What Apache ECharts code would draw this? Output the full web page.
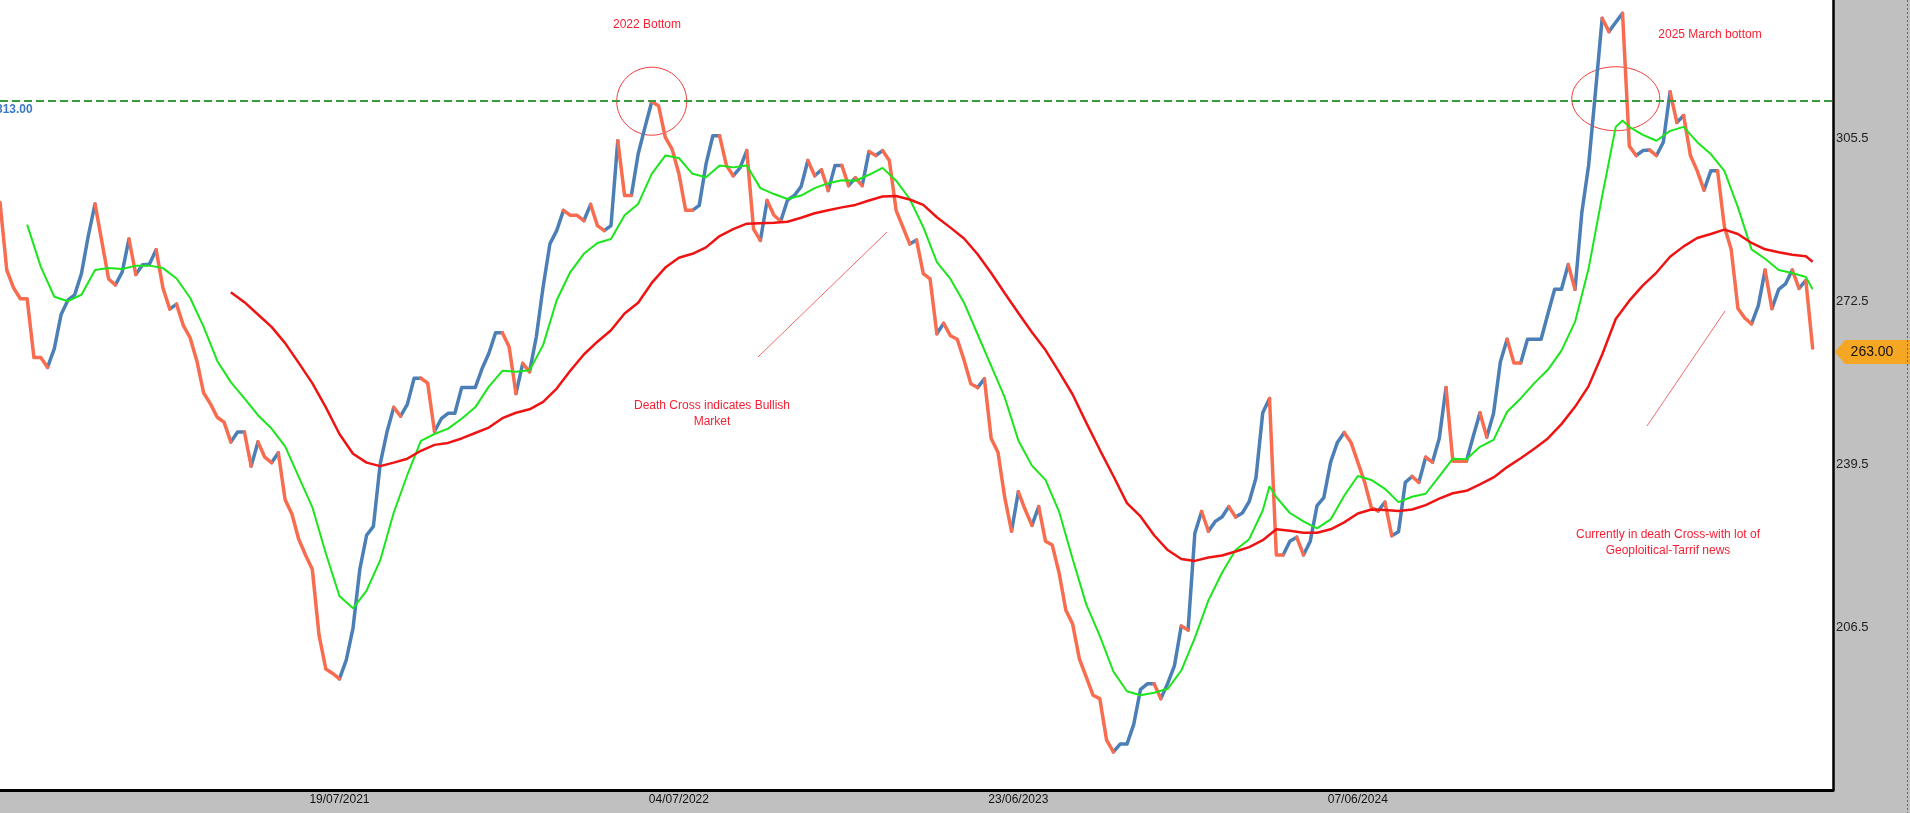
<!DOCTYPE html>
<html><head><meta charset="utf-8">
<script src="https://cdn.jsdelivr.net/npm/echarts@6/dist/echarts.min.js"></script>
<style>html,body{margin:0;padding:0;background:#c0c0c0;}#c{width:1910px;height:813px;}</style>
</head><body><div id="c"></div>
<script>
// weekly closing prices (index = week on the category axis)
const price = [
292.5,278.8,275.2,273.0,273.0,261.1,261.1,259.1,262.9,269.8,
272.7,273.8,278.1,285.7,292.2,284.6,277.0,275.8,278.4,285.1,
277.9,279.9,280.0,282.9,275.2,270.9,271.9,267.6,265.1,260.4,
253.9,251.7,249.0,248.0,244.0,246.0,246.0,239.1,244.0,240.9,
239.8,241.8,232.3,229.4,224.3,221.1,218.2,204.8,198.0,197.1,
196.0,199.8,206.3,218.2,225.1,226.9,239.5,246.0,251.0,249.2,
251.6,256.9,256.9,255.9,246.1,248.7,249.8,249.8,255.0,255.0,
255.0,258.8,261.9,266.1,266.1,263.2,253.8,259.9,258.2,265.3,
275.4,284.1,286.8,290.9,289.9,289.9,288.8,292.1,287.8,286.8,
287.8,305.0,293.9,293.9,302.3,307.7,312.9,312.1,305.7,303.3,
298.3,290.9,290.9,291.9,300.3,306.0,306.0,300.0,297.9,299.5,
303.0,287.1,284.8,292.9,289.9,288.7,293.0,293.9,295.7,301.0,
297.9,299.1,294.9,300.0,300.0,295.9,297.5,295.9,302.8,302.0,
303.0,301.0,290.9,287.5,284.1,284.9,278.1,277.0,265.9,268.0,
265.5,264.8,260.6,255.8,255.0,256.8,244.7,241.9,232.7,225.9,
233.9,230.3,227.1,230.9,223.9,223.1,217.5,209.9,207.1,200.0,
196.4,192.7,192.0,183.6,181.2,182.8,182.8,186.8,193.9,195.0,
195.0,192.0,195.1,198.7,206.7,205.9,225.5,229.9,225.9,227.9,
228.8,230.9,228.8,229.6,231.9,236.7,249.9,252.8,221.1,221.1,
223.9,224.7,221.1,223.9,231.1,232.7,239.9,243.9,245.9,243.9,
239.9,235.9,230.7,230.0,231.8,225.0,225.8,235.8,237.0,235.8,
240.9,239.9,244.7,255.0,240.1,240.1,240.1,245.1,249.9,245.0,
249.8,260.2,264.8,260.0,260.0,264.8,264.8,264.8,269.9,274.9,
274.9,279.9,274.9,290.4,300.0,314.7,329.8,327.1,329.0,330.8,
303.9,302.0,303.0,303.1,302.0,304.7,314.9,308.7,310.1,302.0,
298.9,295.0,298.9,298.9,287.6,283.0,271.0,269.1,267.9,271.6,
278.8,271.0,274.9,276.0,278.8,275.1,276.7,263.0
];
// short moving average (green), [week index, value]
const greenMA = [
[4,288],[6,279.5],[8,273.4],[10,272.5],[12,273.8],[14,278.8],[16,279.2],[18,279],[20,279.7],[22,279.7],
[24,279.2],[26,277.1],[28,273.2],[30,267.3],[32,260.4],[34,256.1],[36,252.8],[38,249.4],[40,246.7],[42,243.1],
[44,236.9],[46,230.8],[48,221.4],[50,212.8],[52,210.3],[54,213.9],[56,220],[58,229.7],[60,237.3],[62,244.2],
[64,245.6],[66,246.7],[68,248.7],[70,251],[72,255.2],[74,258.4],[76,258.2],[78,258.5],[80,263.6],[82,272.7],
[84,278.4],[86,282.1],[88,284.3],[90,285.1],[92,289.9],[94,292.2],[96,298.3],[98,302],[100,301.5],[102,298.3],
[104,297.6],[106,300],[108,299.6],[110,300],[112,295.4],[114,294.2],[116,293.2],[118,293.9],[120,295.4],[122,296.4],
[124,297],[126,296.9],[128,298.1],[130,299.5],[132,296.9],[134,293.2],[136,287.5],[138,280.4],[140,277],[142,272.2],
[144,265.8],[146,259.4],[148,253],[150,244.3],[152,239.2],[154,236.3],[156,229.9],[158,220.3],[160,211.1],[162,204.7],
[164,197.5],[166,193.5],[168,192.7],[170,193.2],[172,194],[174,197.7],[176,204.3],[178,211.9],[180,217.5],[182,222.1],
[184,224.3],[186,230.1],[187,235],[188,232.8],[190,229.6],[192,227.9],[194,226.5],[196,228.3],[198,233.1],[200,237.1],
[202,236.3],[204,234.5],[206,231.8],[208,232.9],[210,233.5],[212,237],[214,240.6],[216,240.5],[218,243],[220,244.4],
[222,250.1],[224,252.8],[226,255.9],[228,258.6],[230,262.5],[232,268.3],[234,279.1],[236,293.8],[238,307.8],[239,309.1],
[240,307.8],[242,306.2],[244,305],[246,307],[248,307.8],[250,304.7],[252,302.3],[254,298.9],[256,291.5],[258,283],
[260,281.1],[262,278.8],[264,278.2],[266,277.4],[267,274.9]
];
// long moving average (red), [week index, value]
const redMA = [
[34,274.3],[36,272.3],[38,269.8],[40,267.3],[42,264.0],[44,260.0],[46,255.9],[48,251.0],[50,245.6],[52,241.6],
[54,239.8],[56,239.1],[58,239.8],[60,240.6],[62,242.2],[64,243.4],[66,243.8],[68,244.7],[70,245.8],[72,246.9],
[74,248.8],[76,249.9],[78,250.6],[80,252.1],[82,254.8],[84,258.4],[86,261.7],[88,264.3],[90,266.6],[92,270],
[94,272.2],[96,276.2],[98,279.3],[100,281.3],[102,282.1],[104,283.4],[106,285.7],[108,287.1],[110,288.2],[112,288.3],
[114,288.4],[116,288.6],[118,289.4],[120,290.3],[122,290.9],[124,291.5],[126,292],[128,292.9],[130,293.7],[132,293.8],
[134,293.1],[136,292],[138,289.5],[140,287.4],[142,285.2],[144,282],[146,278.2],[148,274.1],[150,270.1],[152,266.2],
[154,262.6],[156,258.2],[158,253.6],[160,247.9],[162,242.4],[164,237.1],[166,231.6],[168,228.9],[170,225.1],[172,222.1],
[174,220.3],[176,219.9],[178,220.6],[180,221],[182,221.8],[184,222.7],[186,224.1],[188,226.3],[190,226],[192,225.6],
[194,225.6],[196,226.3],[198,227.7],[200,229.5],[202,230.3],[204,230.2],[206,230],[208,230.3],[210,231.2],[212,232.5],
[214,233.6],[216,234.1],[218,235.4],[220,236.8],[222,238.9],[224,240.7],[226,242.6],[228,244.7],[230,247.6],[232,251.1],
[234,255.3],[236,261.7],[238,268.9],[240,272.6],[242,275.7],[244,278.3],[246,281.5],[248,283.6],[250,285.3],[252,286.1],
[254,287],[256,286.1],[258,284.3],[260,283],[262,282.4],[264,281.9],[266,281.6],[267,280.5]
];
const dateLabels = ['19/07/2021','04/07/2022','23/06/2023','07/06/2024'];
const dateLabelIdx = [50,100,150,200];
const yTicks = [206.5,239.5,272.5,305.5];
const refLevel = 313;
const nCats = 271;

const cats = Array.from({length:nCats}, (_, i) => String(i));

// split price into rising (blue) / falling (orange) runs, alternating between two series per colour
const runs = [];
let prevDir = -1;
for (let j = 0; j < price.length - 1; j++) {
  let dir = price[j+1] > price[j] ? 1 : (price[j+1] < price[j] ? -1 : prevDir);
  if (runs.length && runs[runs.length-1].dir === dir) runs[runs.length-1].end = j + 1;
  else runs.push({dir, start: j, end: j + 1});
  prevDir = dir;
}
const lines = [0,1,2,3].map(() => new Array(nCats).fill(null));
let upC = 0, dnC = 0;
runs.forEach(r => {
  const k = r.dir > 0 ? (upC++ % 2) : 2 + (dnC++ % 2);
  for (let i = r.start; i <= r.end; i++) lines[k][i] = price[i];
});

const BLUE = '#4b7fb6', ORANGE = '#f86c4f';
const priceSeries = lines.map((d, k) => ({
  type: 'line', data: d, symbol: 'none', connectNulls: false, z: 2,
  lineStyle: {color: k < 2 ? BLUE : ORANGE, width: 3.5, cap: 'round', join: 'round'},
  silent: true
}));
priceSeries[0].markLine = {
  silent: true, symbol: 'none', label: {show: false},
  lineStyle: {color: '#3a9a3a', type: [8, 4], width: 2},
  data: [{yAxis: refLevel}]
};

const chart = echarts.init(document.getElementById('c'));
chart.setOption({
  animation: false,
  backgroundColor: '#c0c0c0',
  grid: {left: 0, top: 0, right: 77, bottom: 23, show: true, backgroundColor: '#ffffff', borderWidth: 0},
  xAxis: {
    type: 'category', data: cats, boundaryGap: false,
    axisLine: {onZero: false, lineStyle: {color: '#000', width: 3}},
    axisTick: {show: false}, splitLine: {show: false},
    axisLabel: {
      interval: (i) => dateLabelIdx.includes(i),
      formatter: (v, i) => { const k = dateLabelIdx.indexOf(i); return k >= 0 ? dateLabels[k] : ''; },
      color: '#111', fontSize: 12, margin: 4, fontFamily: 'Liberation Sans'
    }
  },
  yAxis: {
    type: 'value', position: 'right', min: 173.5, max: 333.5, interval: 33,
    axisLine: {show: true, lineStyle: {color: '#000', width: 2.5}},
    axisTick: {show: false}, splitLine: {show: false},
    axisLabel: {
      formatter: v => yTicks.some(t => Math.abs(t - v) < 1e-6) ? v.toFixed(1) : '',
      color: '#222', fontSize: 13, margin: 3, fontFamily: 'Liberation Sans'
    }
  },
  series: [
    ...priceSeries,
    {type: 'line', data: greenMA, symbol: 'none', z: 3, silent: true,
     lineStyle: {color: '#1be61b', width: 2}},
    {type: 'line', data: redMA, symbol: 'none', z: 3, silent: true,
     lineStyle: {color: '#ef1414', width: 2.5}}
  ]
});

const px = (i, v) => chart.convertToPixel({xAxisIndex: 0, yAxisIndex: 0}, [i, v]);
const yRef = chart.convertToPixel({yAxisIndex: 0}, refLevel);
const lastV = price[price.length - 1];
const yTag = chart.convertToPixel({yAxisIndex: 0}, lastV) + 4;
const c2022 = px(96, refLevel);
const c2025 = px(238, 313.5);
const TXT = '#f61e32';
const font = '12px "Liberation Sans"';
chart.setOption({
  graphic: [
    {type: 'text', x: -4, y: yRef + 2, silent: true,
     style: {text: refLevel.toFixed(2), fill: '#3b78c4', font: 'bold 12px "Liberation Sans"'}},
    {type: 'ellipse', silent: true, shape: {cx: c2022[0], cy: c2022[1], rx: 35, ry: 34},
     style: {fill: null, stroke: '#f03a3a', lineWidth: 1}},
    {type: 'ellipse', silent: true, shape: {cx: c2025[0], cy: c2025[1], rx: 44, ry: 32},
     style: {fill: null, stroke: '#f03a3a', lineWidth: 1}},
    {type: 'line', silent: true, shape: {x1: 758, y1: 357, x2: 887, y2: 232},
     style: {stroke: '#f26a6a', lineWidth: 1}},
    {type: 'line', silent: true, shape: {x1: 1647, y1: 426, x2: 1725, y2: 311},
     style: {stroke: '#f26a6a', lineWidth: 1}},
    {type: 'text', x: 647, y: 25, silent: true,
     style: {text: '2022 Bottom', fill: TXT, font, align: 'center', verticalAlign: 'middle'}},
    {type: 'text', x: 1710, y: 35, silent: true,
     style: {text: '2025 March bottom', fill: TXT, font, align: 'center', verticalAlign: 'middle'}},
    {type: 'text', x: 712, y: 414, silent: true,
     style: {text: 'Death Cross indicates Bullish\nMarket', fill: TXT, font, align: 'center', verticalAlign: 'middle', lineHeight: 16}},
    {type: 'text', x: 1668, y: 543, silent: true,
     style: {text: 'Currently in death Cross-with lot of\nGeoploitical-Tarrif news', fill: TXT, font, align: 'center', verticalAlign: 'middle', lineHeight: 16}},
    {type: 'polygon', silent: true,
     shape: {points: [[1835, yTag], [1845, yTag - 12], [1910, yTag - 12], [1910, yTag + 12], [1845, yTag + 12]]},
     style: {fill: '#f5a623'}},
    {type: 'text', x: 1872, y: yTag, silent: true,
     style: {text: lastV.toFixed(2), fill: '#111', font: '14px "Liberation Sans"', align: 'center', verticalAlign: 'middle'}},
    {type: 'line', silent: true, shape: {x1: 1907.5, y1: 0, x2: 1907.5, y2: 813},
     style: {stroke: '#666', lineWidth: 1, lineDash: [2, 2]}}
  ]
});
</script>
</body></html>
